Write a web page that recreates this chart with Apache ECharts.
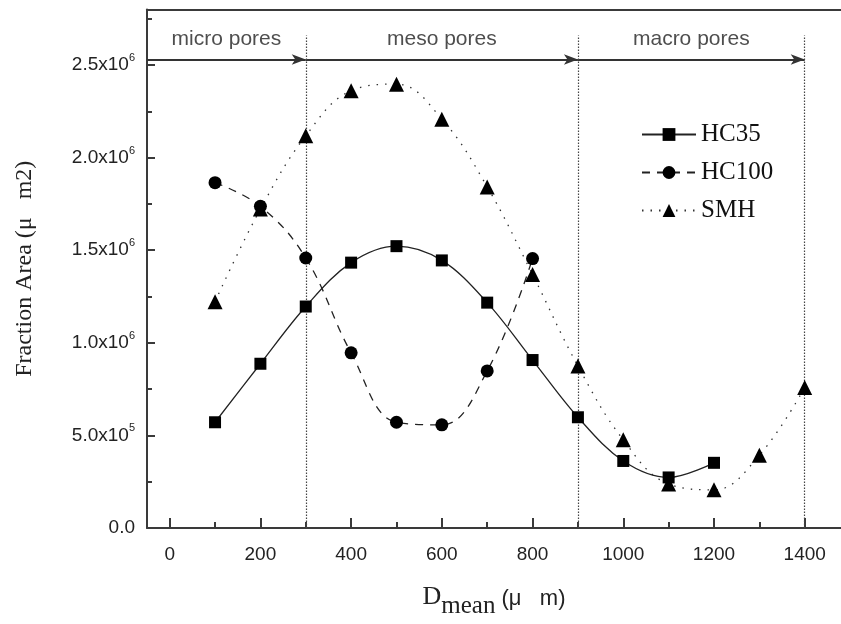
<!DOCTYPE html>
<html>
<head>
<meta charset="utf-8">
<script src="https://cdn.jsdelivr.net/npm/echarts@6/dist/echarts.min.js"></script>
<style>html,body{margin:0;padding:0;background:#fff}#c{width:841px;height:624px}</style>
</head>
<body>
<div id="c"></div>
<script>
// ---- data ----
var dMean = [100, 200, 300, 400, 500, 600, 700, 800, 900, 1000, 1100, 1200, 1300, 1400];
var hc35 = [0.571e6, 0.887e6, 1.196e6, 1.433e6, 1.522e6, 1.445e6, 1.217e6, 0.907e6, 0.598e6, 0.362e6, 0.273e6, 0.352e6];
var hc100 = [1.865e6, 1.737e6, 1.458e6, 0.946e6, 0.571e6, 0.557e6, 0.848e6, 1.455e6];
var smh = [1.222e6, 1.722e6, 2.118e6, 2.361e6, 2.397e6, 2.208e6, 1.842e6, 1.369e6, 0.875e6, 0.476e6, 0.238e6, 0.206e6, 0.393e6, 0.759e6];
var seriesNames = ['HC35', 'HC100', 'SMH'];
var regionNames = ['micro pores', 'meso pores', 'macro pores'];
var regionStart = [-50, 300, 900];
var regionEnd = [300, 900, 1400];
var regionArrowY = 2.53e6;
var regionLineTop = 2.66e6;
var regionLabelY = 2.64e6;
var xLabelValues = [0, 200, 400, 600, 800, 1000, 1200, 1400];
var xMinorValues = [100, 300, 500, 700, 900, 1100, 1300];
var yTickValues = [0, 0.5e6, 1.0e6, 1.5e6, 2.0e6, 2.5e6];
var yTickLabels = [['0.0', ''], ['5.0x10', '5'], ['1.0x10', '6'], ['1.5x10', '6'], ['2.0x10', '6'], ['2.5x10', '6']];
var yMinorValues = [0.25e6, 0.75e6, 1.25e6, 1.75e6, 2.25e6, 2.75e6];

function pairs(xs, ys) { return ys.map(function (v, i) { return [xs[i], v]; }); }

var axisColor = '#3a3a3a';
var chart = echarts.init(document.getElementById('c'));

var arrowLines = regionNames.map(function (n, i) {
  return [{ coord: [regionStart[i], regionArrowY] }, { coord: [regionEnd[i], regionArrowY] }];
});
var vLines = regionEnd.map(function (x) {
  return [{ coord: [x, 0] }, { coord: [x, regionLineTop] }];
});
var regionLabelData = regionNames.map(function (n, i) {
  return { value: [(regionStart[i] + regionEnd[i]) / 2, regionLabelY], name: n };
});

chart.setOption({
  animation: false,
  backgroundColor: '#fff',
  grid: { left: 147, top: 8, width: 695, bottom: 92 },
  legend: {
    orient: 'vertical',
    left: 636,
    top: 117,
    itemWidth: 54,
    itemHeight: 16,
    itemGap: 13,
    data: seriesNames,
    textStyle: { fontFamily: 'Liberation Serif', fontSize: 25, color: '#111' }
  },
  xAxis: [{
    type: 'value', min: -50, max: 1480, position: 'bottom',
    axisLine: { show: true, onZero: false, lineStyle: { color: axisColor, width: 2 } },
    axisTick: { show: true, inside: true, length: 10, customValues: xLabelValues, lineStyle: { color: axisColor, width: 2 } },
    axisLabel: { customValues: xLabelValues, margin: 17, fontFamily: 'Liberation Sans', fontSize: 19, color: '#222',
      formatter: function (v) { return String(v); } },
    splitLine: { show: false },
    name: '{d|D}{m|mean}{u| (μ   m)}',
    nameLocation: 'middle',
    nameGap: 56,
    nameTextStyle: {
      fontFamily: 'Liberation Serif', color: '#222',
      rich: {
        d: { fontFamily: 'Liberation Serif', fontSize: 26, padding: [0, 0, 8, 0] },
        m: { fontFamily: 'Liberation Serif', fontSize: 25, padding: [10, 0, 0, 0] },
        u: { fontFamily: 'Liberation Sans', fontSize: 22, padding: [0, 0, 6, 0] }
      }
    }
  }, {
    type: 'value', min: -50, max: 1480, position: 'bottom',
    axisLine: { show: false, onZero: false },
    axisTick: { show: true, inside: true, length: 6, customValues: xMinorValues, lineStyle: { color: axisColor, width: 2 } },
    axisLabel: { show: false },
    splitLine: { show: false }
  }, {
    type: 'value', min: -50, max: 1480, position: 'top',
    axisLine: { show: true, onZero: false, lineStyle: { color: axisColor, width: 2 } },
    axisTick: { show: false }, axisLabel: { show: false }, splitLine: { show: false }
  }],
  yAxis: [{
    type: 'value', min: 0, max: 2.8e6, interval: 0.5e6, position: 'left',
    axisLine: { show: true, onZero: false, lineStyle: { color: axisColor, width: 2 } },
    axisTick: { show: true, inside: true, length: 8, lineStyle: { color: axisColor, width: 2 } },
    axisLabel: {
      margin: 12,
      formatter: function (v) {
        var idx = yTickValues.indexOf(v);
        var t = yTickLabels[idx] || ['', ''];
        return '{b|' + t[0] + '}' + (t[1] ? '{s|' + t[1] + '}' : '');
      },
      rich: {
        b: { fontFamily: 'Liberation Sans', fontSize: 19, color: '#222' },
        s: { fontFamily: 'Liberation Sans', fontSize: 11, color: '#222', padding: [0, 0, 14, 0] }
      }
    },
    splitLine: { show: false },
    name: 'Fraction Area (μ   m2)',
    nameLocation: 'middle',
    nameGap: 110,
    nameTextStyle: { fontFamily: 'Liberation Serif', fontSize: 24, color: '#222' }
  }, {
    type: 'value', min: 0, max: 2.8e6, interval: 0.5e6, position: 'left',
    axisLine: { show: false, onZero: false },
    axisTick: { show: true, inside: true, length: 5, customValues: yMinorValues, lineStyle: { color: axisColor, width: 2 } },
    axisLabel: { show: false },
    splitLine: { show: false }
  }],
  series: [{
    name: 'HC35', type: 'line', data: pairs(dMean, hc35), smooth: 0.35,
    symbol: 'rect', symbolSize: 12,
    itemStyle: { color: '#000' },
    lineStyle: { color: '#222', width: 1.3, type: 'solid' },
    z: 5
  }, {
    name: 'HC100', type: 'line', data: pairs(dMean, hc100), smooth: 0.4,
    symbol: 'circle', symbolSize: 13,
    itemStyle: { color: '#000' },
    lineStyle: { color: '#222', width: 1.3, type: [8, 7] },
    z: 5
  }, {
    name: 'SMH', type: 'line', data: pairs(dMean, smh), smooth: 0.4,
    symbol: 'triangle', symbolSize: 15,
    itemStyle: { color: '#000' },
    lineStyle: { color: '#333', width: 1.3, type: [1.5, 7] },
    z: 5
  }, {
    name: 'regions', type: 'scatter', data: regionLabelData, symbolSize: 0, silent: true,
    label: { show: true, position: 'inside', formatter: '{b}', fontFamily: 'Liberation Sans', fontSize: 21, color: '#222' },
    markLine: {
      silent: true, animation: false, symbol: ['none', 'arrow'], symbolSize: [8, 14],
      label: { show: false },
      lineStyle: { color: '#333', width: 2, type: 'solid' },
      data: arrowLines
    },
    z: 3
  }, {
    name: 'bounds', type: 'line', data: [], silent: true,
    markLine: {
      silent: true, animation: false, symbol: ['none', 'none'],
      label: { show: false },
      lineStyle: { color: '#444', width: 1.2, type: [1.5, 1.5] },
      data: vLines
    },
    z: 2
  }]
});
</script>
</body>
</html>
